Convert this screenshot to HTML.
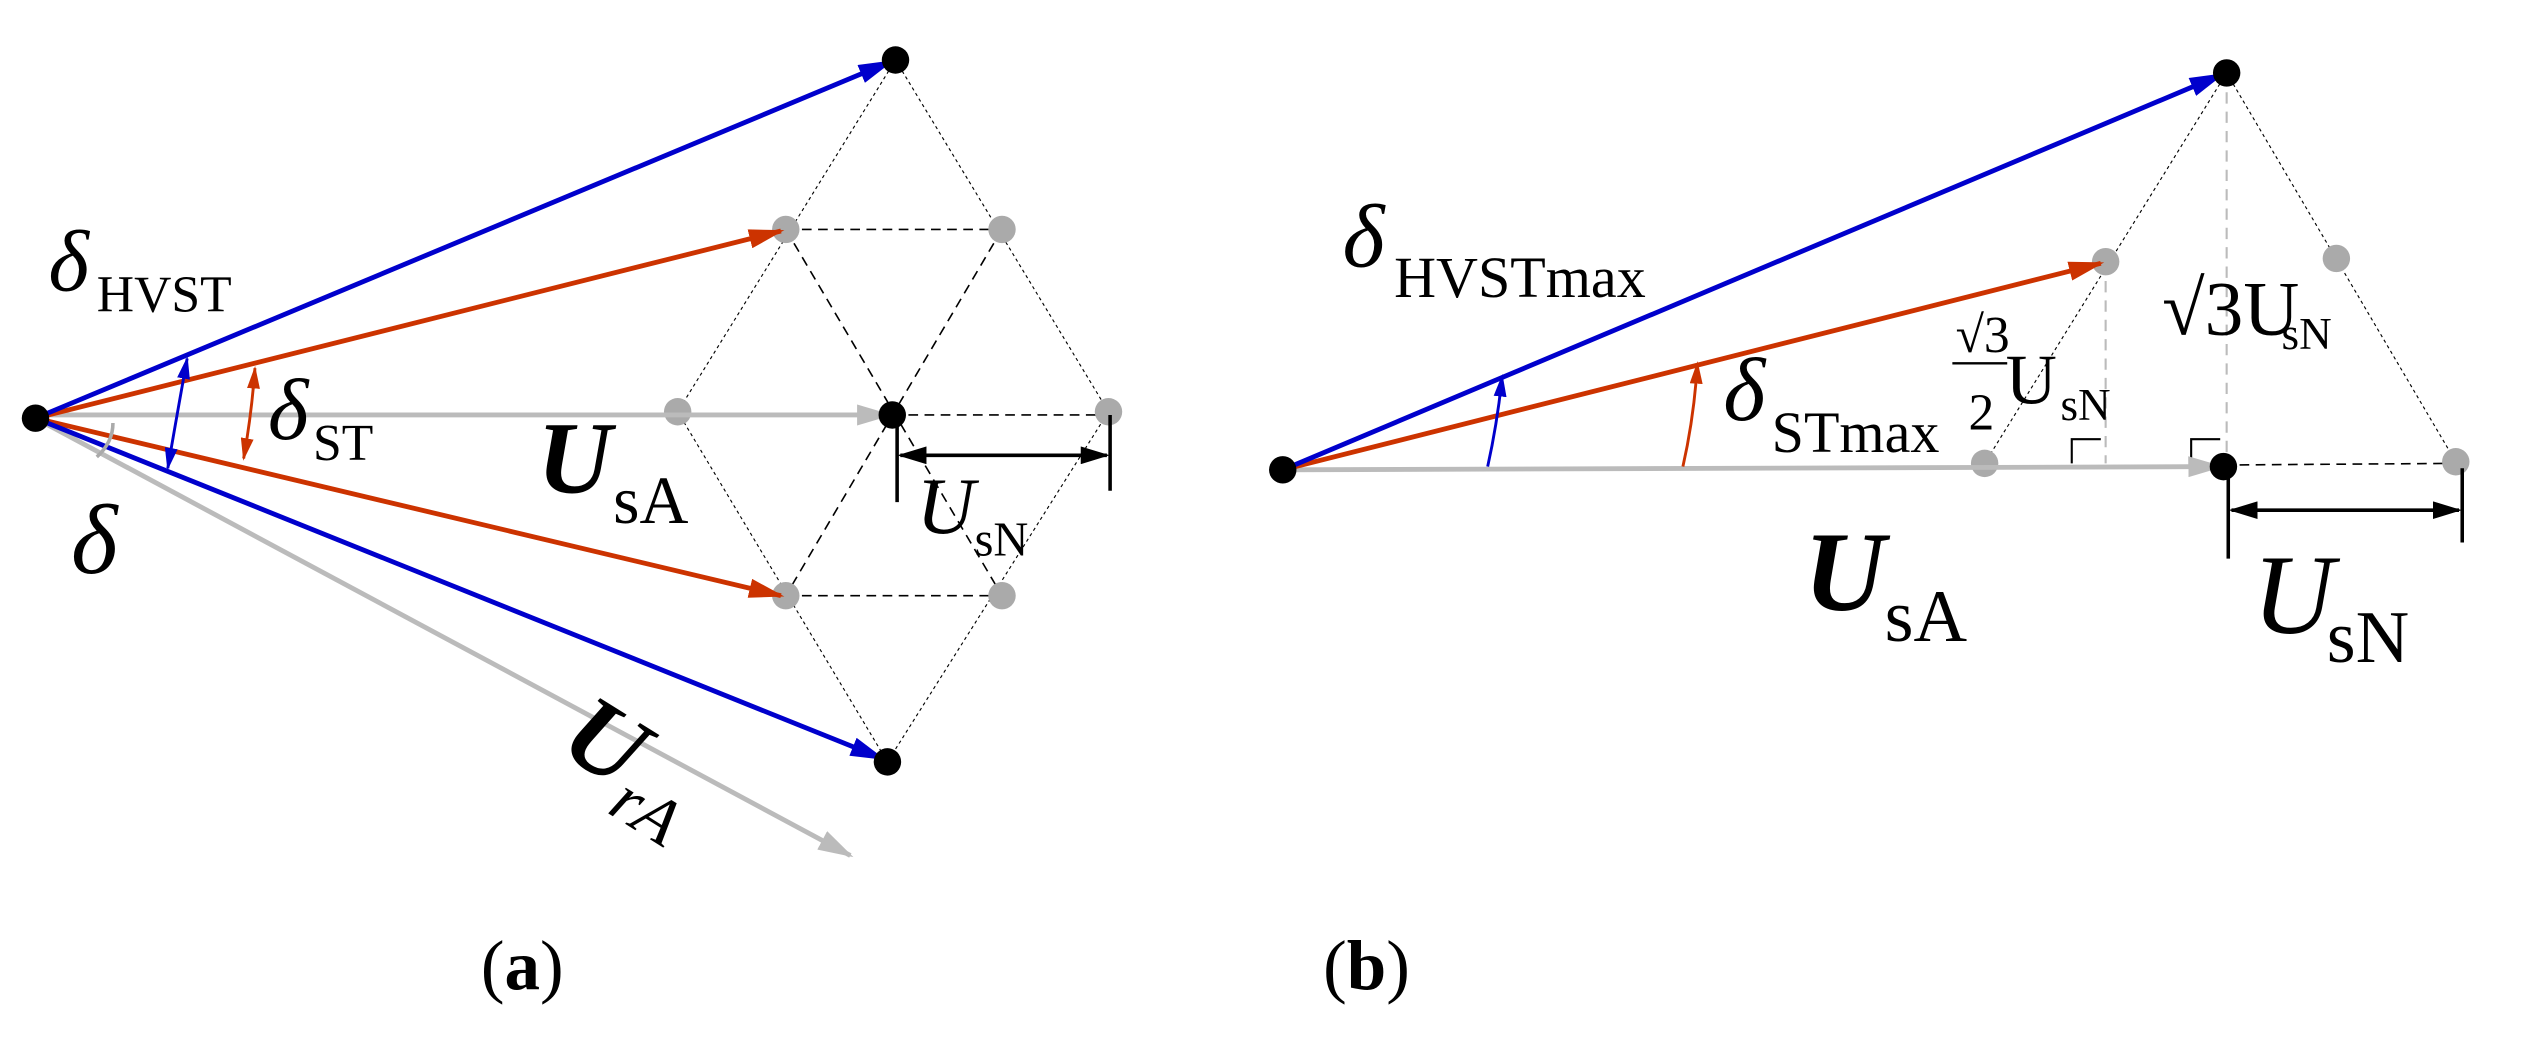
<!DOCTYPE html>
<html><head><meta charset="utf-8"><style>html,body{margin:0;padding:0;background:#fff}svg{display:block}</style></head>
<body>
<svg width="2530" height="1051" viewBox="0 0 1568 651" xmlns="http://www.w3.org/2000/svg" font-family="'Liberation Serif', serif">
<defs>
<marker id="ab" viewBox="0 0 10 10" preserveAspectRatio="none" refX="9" refY="5" markerWidth="22" markerHeight="12" markerUnits="userSpaceOnUse" orient="auto"><path d="M0,0L10,5L0,10z" fill="#0000cc"/></marker>
<marker id="ar" viewBox="0 0 10 10" preserveAspectRatio="none" refX="9" refY="5" markerWidth="22" markerHeight="12" markerUnits="userSpaceOnUse" orient="auto"><path d="M0,0L10,5L0,10z" fill="#cc3300"/></marker>
<marker id="ag" viewBox="0 0 10 10" preserveAspectRatio="none" refX="9" refY="5" markerWidth="22" markerHeight="13" markerUnits="userSpaceOnUse" orient="auto"><path d="M0,0L10,5L0,10z" fill="#bbbbbb"/></marker>
<marker id="ak" viewBox="0 0 10 10" preserveAspectRatio="none" refX="9" refY="5" markerWidth="18" markerHeight="11" markerUnits="userSpaceOnUse" orient="auto"><path d="M0,0L10,5L0,10z" fill="#000"/></marker>
<marker id="ks" viewBox="0 0 10 10" preserveAspectRatio="none" refX="1" refY="5" markerWidth="18" markerHeight="11" markerUnits="userSpaceOnUse" orient="auto"><path d="M10,0L0,5L10,10z" fill="#000"/></marker>
<marker id="sb" viewBox="0 0 10 10" preserveAspectRatio="none" refX="9" refY="5" markerWidth="14" markerHeight="8" markerUnits="userSpaceOnUse" orient="auto"><path d="M0,0L10,5L0,10z" fill="#0000cc"/></marker>
<marker id="sbs" viewBox="0 0 10 10" preserveAspectRatio="none" refX="1" refY="5" markerWidth="14" markerHeight="8" markerUnits="userSpaceOnUse" orient="auto"><path d="M10,0L0,5L10,10z" fill="#0000cc"/></marker>
<marker id="sr" viewBox="0 0 10 10" preserveAspectRatio="none" refX="9" refY="5" markerWidth="14" markerHeight="8" markerUnits="userSpaceOnUse" orient="auto"><path d="M0,0L10,5L0,10z" fill="#cc3300"/></marker>
<marker id="srs" viewBox="0 0 10 10" preserveAspectRatio="none" refX="1" refY="5" markerWidth="14" markerHeight="8" markerUnits="userSpaceOnUse" orient="auto"><path d="M10,0L0,5L10,10z" fill="#cc3300"/></marker>
</defs>

<g stroke="#000" stroke-width="0.7" stroke-dasharray="2,2" fill="none">
<path d="M555,37 L420,255 L550,472 M555,37 L687,255 L550,472"/>
</g>
<g stroke="#000" stroke-width="1" stroke-dasharray="6,4" fill="none">
<path d="M487,142 H621 M487,369 H621 M553,257 H687 M487,142 L621,369 M621,142 L487,369"/>
</g>
<g fill="#aaa">
<circle cx="420" cy="255" r="8.5"/><circle cx="687" cy="255" r="8.5"/><circle cx="487" cy="142" r="8.5"/><circle cx="621" cy="142" r="8.5"/><circle cx="487" cy="369" r="8.5"/><circle cx="621" cy="369" r="8.5"/>
</g>
<line x1="22" y1="259" x2="527" y2="530" stroke="#bbb" stroke-width="3" marker-end="url(#ag)"/>
<line x1="22" y1="257" x2="551" y2="257" stroke="#bbb" stroke-width="3" marker-end="url(#ag)"/>
<line x1="22" y1="259" x2="484" y2="143" stroke="#cc3300" stroke-width="3" marker-end="url(#ar)"/>
<line x1="22" y1="259" x2="484" y2="369" stroke="#cc3300" stroke-width="3" marker-end="url(#ar)"/>
<line x1="22" y1="259" x2="552" y2="38" stroke="#0000cc" stroke-width="3" marker-end="url(#ab)"/>
<line x1="22" y1="259" x2="547" y2="470" stroke="#0000cc" stroke-width="3" marker-end="url(#ab)"/>
<g fill="#000"><circle cx="22" cy="259" r="8.5"/><circle cx="555" cy="37" r="8.5"/><circle cx="550" cy="472" r="8.5"/><circle cx="553" cy="257" r="8.5"/></g>
<path d="M116,222 Q110,255 104,290" stroke="#0000cc" stroke-width="1.8" fill="none" marker-start="url(#sbs)" marker-end="url(#sb)"/>
<path d="M158,228 Q156,256 151,284" stroke="#cc3300" stroke-width="1.8" fill="none" marker-start="url(#srs)" marker-end="url(#sr)"/>
<path d="M70,262 Q70,274 60,283" stroke="#aaa" stroke-width="2.2" fill="none"/>
<g stroke="#000" stroke-width="2.2"><line x1="556" y1="257" x2="556" y2="311"/><line x1="688" y1="257" x2="688" y2="304"/></g>
<line x1="558" y1="282" x2="686" y2="282" stroke="#000" stroke-width="2.2" marker-start="url(#ks)" marker-end="url(#ak)"/>

<text x="30" y="180" font-size="54" font-style="italic">δ</text><text x="60" y="193" font-size="32">HVST</text>
<text x="166" y="272" font-size="54" font-style="italic">δ</text><text x="194" y="285" font-size="32">ST</text>
<text x="44" y="355" font-size="62" font-style="italic">δ</text>
<text x="333" y="305" font-size="64" font-style="italic" font-weight="bold">U</text><text x="380" y="324" font-size="42">sA</text>
<text x="568" y="330" font-size="50" font-style="italic">U</text><text x="604" y="344" font-size="30">sN</text>
<g transform="translate(345,465) rotate(32)"><text x="0" y="0" font-size="64" font-style="italic" font-weight="bold">U</text><text x="46" y="16" font-size="42" font-style="italic">rA</text></g>
<text x="298" y="613" font-size="44">(<tspan font-weight="bold">a</tspan>)</text>

<g stroke="#000" stroke-width="0.7" stroke-dasharray="2,2" fill="none"><path d="M1380,45 L1230,287 M1380,45 L1522,286"/></g>
<g stroke="#bbb" stroke-width="1.3" stroke-dasharray="7,5" fill="none"><path d="M1305,162 V287 M1380,45 V287"/></g>
<line x1="1378" y1="288" x2="1522" y2="287" stroke="#000" stroke-width="1" stroke-dasharray="6,4"/>
<g stroke="#000" stroke-width="1.3" fill="none"><path d="M1284,287 V272 H1302 M1358,287 V272 H1376"/></g>
<g fill="#aaa"><circle cx="1230" cy="287" r="8.5"/><circle cx="1305" cy="162" r="8.5"/><circle cx="1448" cy="160" r="8.5"/><circle cx="1522" cy="286" r="8.5"/></g>
<line x1="795" y1="291" x2="1376" y2="289" stroke="#bbb" stroke-width="3" marker-end="url(#ag)"/>
<line x1="795" y1="291" x2="1302" y2="163" stroke="#cc3300" stroke-width="3" marker-end="url(#ar)"/>
<line x1="795" y1="291" x2="1377" y2="46" stroke="#0000cc" stroke-width="3" marker-end="url(#ab)"/>
<g fill="#000"><circle cx="795" cy="291" r="8.5"/><circle cx="1380" cy="45" r="8.5"/><circle cx="1378" cy="289" r="8.5"/></g>
<path d="M922,289 Q928,262 931,233" stroke="#0000cc" stroke-width="1.8" fill="none" marker-end="url(#sb)"/>
<path d="M1043,289 Q1050,258 1052,225" stroke="#cc3300" stroke-width="1.8" fill="none" marker-end="url(#sr)"/>
<g stroke="#000" stroke-width="2.2"><line x1="1381" y1="290" x2="1381" y2="346"/><line x1="1526" y1="290" x2="1526" y2="336"/></g>
<line x1="1383" y1="316" x2="1524" y2="316" stroke="#000" stroke-width="2.2" marker-start="url(#ks)" marker-end="url(#ak)"/>

<text x="832" y="165" font-size="56" font-style="italic">δ</text><text x="864" y="184" font-size="36">HVSTmax</text>
<text x="1068" y="260" font-size="56" font-style="italic">δ</text><text x="1098" y="280" font-size="36">STmax</text>
<text x="1212" y="218" font-size="32">√3</text>
<line x1="1210" y1="225" x2="1244" y2="225" stroke="#000" stroke-width="1.5"/>
<text x="1220" y="266" font-size="32">2</text>
<text x="1243" y="250" font-size="44">U</text><text x="1277" y="260" font-size="28">sN</text>
<text x="1340" y="207" font-size="48">√3U</text><text x="1414" y="216" font-size="28">sN</text>
<text x="1118" y="378" font-size="70" font-style="italic" font-weight="bold">U</text><text x="1168" y="397" font-size="46">sA</text>
<text x="1396" y="392" font-size="70" font-style="italic">U</text><text x="1442" y="410" font-size="46">sN</text>
<text x="820" y="613" font-size="44">(<tspan font-weight="bold">b</tspan>)</text>
</svg>
</body></html>
